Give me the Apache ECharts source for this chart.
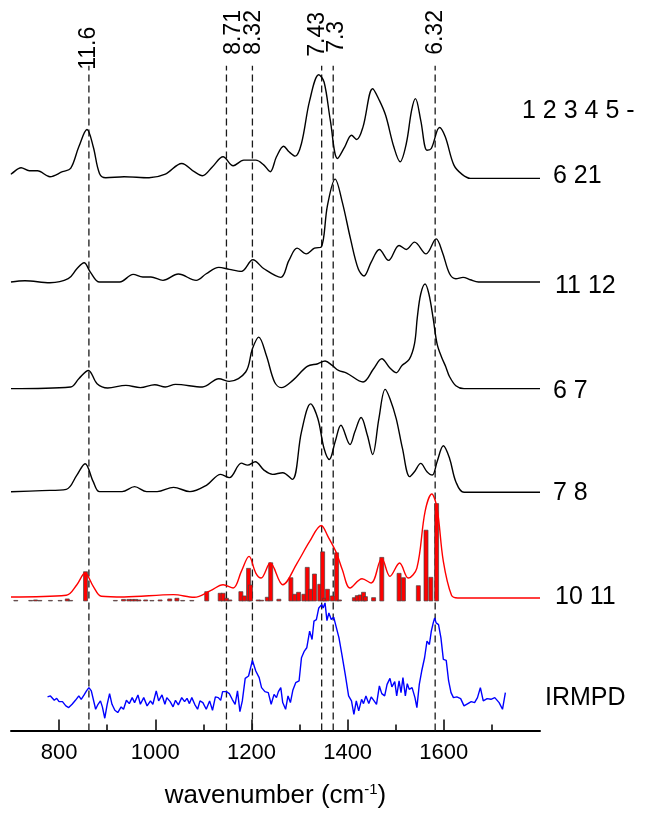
<!DOCTYPE html>
<html><head><meta charset="utf-8">
<script src="https://cdn.jsdelivr.net/npm/echarts@6/dist/echarts.min.js"></script>
<style>html,body{margin:0;padding:0;background:#fff}#c{width:649px;height:814px}</style>
</head><body><div id="c"></div><script>
// ---------- data ----------
const xTicksMajor = [800, 1000, 1200, 1400, 1600];
const xTicksMinor = [900, 1100, 1300, 1500, 1700];
const markerWavenumbers = [862, 1148, 1202, 1346, 1370, 1582];
const markerLabels = ['11.6', '8.71', '8.32', '7.43', '7.3', '6.32'];
const rightLabels = ['1 2 3 4 5 -', '6 21', '11 12', '6 7', '7 8', '10 11', 'IRMPD'];

const spec621 = [[700,4],[702,5],[721,10.7],[738,7.7],[755,7.7],[781,1.7],[807,6.7],[824,10],[841,31.7],[858,49],[871,31.7],[884,5],[897,0.7],[935,1.7],[987,0.7],[1021,4.3],[1055,15],[1081,6.7],[1098,2.7],[1119,11.7],[1141,21.7],[1162,12.7],[1184,18.3],[1209,18.3],[1226,13.3],[1239,6.7],[1252,21.7],[1267,32.3],[1278,26.7],[1291,22.3],[1304,35],[1321,78],[1340,104],[1351,96.7],[1364,58.3],[1379,20],[1394,31.7],[1408,43.3],[1419,39],[1432,51.7],[1452,90],[1466,78.3],[1479,63.3],[1496,31.7],[1509,16.7],[1522,35],[1533,68.3],[1541,80],[1552,58.3],[1565,28.3],[1574,30],[1591,51],[1603,41.7],[1621,13.3],[1638,4],[1655,0],[1800,0]];

const spec1112 = [[700,0],[729,1.3],[781,-0.7],[819,3.3],[837,13.3],[852,19.3],[865,10],[884,0],[926,0],[954,7.7],[974,5],[991,5],[1016,1.7],[1048,8],[1085,1.7],[1106,8.3],[1132,14.7],[1154,12.7],[1179,10.7],[1203,22.3],[1226,13.3],[1261,4.7],[1278,21.7],[1295,34],[1314,28.3],[1331,34],[1345,35],[1358,76.7],[1374,103.3],[1389,80],[1406,43.3],[1422,13.3],[1434,6],[1449,20],[1466,32.7],[1485,21.7],[1507,36.7],[1522,32.7],[1539,40],[1563,28.3],[1584,43.3],[1597,30],[1612,8.3],[1625,3.3],[1640,4.7],[1655,2.3],[1672,0],[1800,0]];

const spec67 = [[700,0],[824,1.7],[841,10],[861,18.3],[879,5],[901,0.7],[939,3.3],[969,1],[999,4],[1021,1.7],[1042,4.3],[1098,1.7],[1132,10],[1154,7.3],[1188,16.7],[1202,40],[1215,51.7],[1231,33.3],[1248,6.7],[1262,1],[1286,8.3],[1316,22.3],[1338,25],[1353,27.7],[1368,23.3],[1381,18.3],[1398,15.7],[1432,6.7],[1454,20],[1471,30],[1488,20.7],[1501,16],[1513,23.3],[1528,29.3],[1539,45],[1545,72],[1552,95],[1561,105],[1569,95],[1578,70],[1586,45],[1595,32],[1604,22],[1612,12],[1625,3],[1642,0],[1800,0]];

const spec78 = [[700,0.5],[764,1.7],[815,3],[837,17.3],[854,28.7],[871,10.7],[884,0.7],[931,0.7],[957,5.7],[982,0.7],[1004,0.7],[1038,5],[1072,0.7],[1107,7.3],[1136,18],[1154,14.7],[1179,29.3],[1192,27.3],[1208,30.7],[1226,22.3],[1244,18],[1265,19.7],[1285,13],[1304,60.7],[1323,88.7],[1338,74],[1351,44],[1362,33],[1374,50.7],[1386,67.3],[1405,48],[1415,60.7],[1428,75],[1441,57.3],[1452,38],[1465,74],[1478,103.3],[1488,94],[1501,74],[1514,44],[1529,15.7],[1539,20.7],[1552,29],[1565,20.7],[1576,17.3],[1586,30.7],[1599,46.7],[1612,34],[1625,10.7],[1642,0],[1800,0]];

const spec1011 = [[700,1],[815,2.7],[837,13.3],[854,25],[871,11.7],[888,1.7],[935,1],[1038,3.3],[1081,0.7],[1115,7.3],[1141,13.3],[1162,10],[1179,26.7],[1195,41.7],[1209,25],[1220,20],[1239,35],[1265,13.3],[1295,35],[1321,56.7],[1345,72.7],[1359,61.7],[1376,46],[1389,28.3],[1405,10],[1430,19.3],[1449,15],[1471,40],[1488,21.7],[1508,35],[1526,20],[1544,30],[1561,86.7],[1575,104.3],[1586,90],[1599,36.7],[1616,2.7],[1629,0],[1800,0]];

const sticks1011 = [[710,0.5],[741,0.5],[751,1],[760,0.5],[782,0.5],[802,0.5],[817,2],[824,0.5],[855,29.3],[917,0.5],[934,1.5],[945,1.5],[952,1.5],[959,1.5],[966,1],[980,1],[993,0.5],[1010,1],[1030,2],[1045,2.7],[1057,0.5],[1076,0.5],[1107,9.3],[1135,7.7],[1141,7.7],[1148,2.7],[1155,1],[1178,9.3],[1185,5],[1194,32.7],[1198,16],[1214,1],[1221,0.7],[1233,3.7],[1240,38.3],[1257,1.7],[1282,23.3],[1290,6.7],[1298,8.7],[1309,6.7],[1316,33.7],[1323,11.7],[1331,27],[1342,16.7],[1348,49.3],[1352,2.7],[1358,11.7],[1368,5],[1377,48.3],[1383,1],[1414,3.3],[1420,5.3],[1426,6],[1433,8.7],[1437,4.3],[1454,3.3],[1471,43.7],[1507,27.7],[1516,23.3],[1547,15.3],[1563,71],[1573,23.7],[1585,97.7]];

const irmpd = [[776,10.7],[782,11.7],[786,13.3],[790,7.3],[795,9.3],[800,6],[807,6],[814,1.7],[820,0],[827,3.3],[834,7.3],[841,11.7],[846,8.3],[852,12.7],[857,16.7],[862,20],[867,16.7],[871,16],[876,-1.7],[881,3.3],[886,6.7],[890,0.7],[895,-10.7],[900,3.3],[905,14],[910,3.3],[916,-2.7],[922,-5],[929,0.7],[934,-1.7],[940,7.3],[946,4],[952,10],[957,5],[964,12.7],[969,3.3],[976,10],[983,1.7],[990,6.7],[995,3.3],[1002,16.7],[1007,6.7],[1014,12.7],[1020,3.3],[1024,10],[1031,6],[1037,0.7],[1042,7.3],[1048,2.7],[1055,10],[1061,6],[1066,9.3],[1071,4],[1076,10],[1082,3.3],[1088,-1.7],[1093,6.7],[1099,5],[1106,-1.7],[1113,6.7],[1119,-2.7],[1125,10.7],[1131,10],[1136,7.3],[1140,16],[1148,16],[1154,14],[1160,8.3],[1166,3.3],[1171,16.7],[1176,-4],[1181,6.7],[1187,29.3],[1194,31.7],[1202,47.3],[1209,36.7],[1216,30],[1221,20],[1228,16],[1235,15],[1241,3.3],[1247,13.3],[1252,10],[1256,16],[1261,20],[1265,5],[1271,-1.7],[1276,11.7],[1281,5],[1286,17.3],[1292,25],[1299,26.7],[1304,50],[1310,56.7],[1315,60],[1321,76.7],[1326,68.3],[1330,86.7],[1335,88.3],[1340,100],[1346,103.3],[1349,100],[1353,105],[1357,87.3],[1361,95],[1366,88.3],[1371,90.7],[1375,89.3],[1382,70],[1388,53.3],[1395,33.3],[1402,11.7],[1408,6.7],[1413,-6.7],[1418,6.7],[1423,-3.3],[1429,8.3],[1433,4],[1438,11.7],[1444,4],[1449,10.7],[1455,6.7],[1460,3.3],[1466,21.7],[1471,14],[1477,11.7],[1482,23.3],[1488,29.3],[1492,20.7],[1498,26],[1502,11.7],[1507,26.7],[1511,15],[1515,30],[1520,11.7],[1524,24],[1528,18.3],[1534,20],[1540,10],[1544,0],[1549,23.3],[1554,36.7],[1560,50],[1565,66.7],[1570,63.3],[1574,76.7],[1578,85],[1581,90],[1584,85],[1589,83.3],[1594,70],[1599,48.3],[1605,47.3],[1610,26.7],[1615,15],[1620,10],[1627,10.7],[1635,9],[1642,1.7],[1650,4],[1657,6],[1664,5],[1670,10],[1676,20],[1682,6.7],[1690,9],[1698,8.3],[1706,10],[1715,5],[1722,-1.7],[1728,15]];

// ---------- layout / style (not data) ----------
const FONT = 'Liberation Sans, Arial, sans-serif';
const Y_MAX = 733;
const offsets = { s621: 554, s1112: 450, s67: 343, s78: 239, s1011: 133, sticks: 130, irmpd: 23 };
const LINE_TOP = 667;
const markerLabelBase = [663, 678, 678, 676, 680, 678];
const markerLabelNudge = [0, 7, 1, -4, 3, 0];
const rightLabelLayout = [
  { y: 622, dx: -18 }, { y: 556, dx: 13 }, { y: 446, dx: 15 }, { y: 341, dx: 13 },
  { y: 238, dx: 13 }, { y: 134, dx: 15 }, { y: 33, dx: 5 }
];

function shift(arr, off) { return arr.map(p => [p[0], p[1] + off]); }
function lineSeries(name, arr, off, color, smooth) {
  return { name, type: 'line', data: shift(arr, off), showSymbol: false, smooth: smooth,
    lineStyle: { color, width: 1.4 }, z: 3, silent: true };
}

const chart = echarts.init(document.getElementById('c'), null, { renderer: 'canvas' });
chart.setOption({
  animation: false,
  backgroundColor: '#fff',
  grid: { left: 11, right: 109, top: 0, bottom: 81, containLabel: false },
  xAxis: [{
    type: 'value', min: 700, max: 1800, position: 'bottom',
    axisLine: { show: true, lineStyle: { color: '#000', width: 2 } },
    axisTick: { show: true, inside: true, length: 11, customValues: xTicksMajor, lineStyle: { color: '#000', width: 1.5 } },
    axisLabel: { show: true, customValues: xTicksMajor, fontSize: 22, color: '#000', margin: 11, fontFamily: FONT,
      formatter: function (v) { return String(v); } },
    splitLine: { show: false },
    name: '{a|wavenumber (cm}{s|-1}{a|)}', nameLocation: 'middle', nameGap: 52,
    nameTextStyle: { rich: {
      a: { fontSize: 26, fontFamily: FONT, color: '#000' },
      s: { fontSize: 15, fontFamily: FONT, color: '#000', verticalAlign: 'top', padding: [0, 0, 12, 0] }
    } }
  }, {
    type: 'value', min: 700, max: 1800, position: 'bottom',
    axisLine: { show: false },
    axisTick: { show: true, inside: true, length: 6, customValues: xTicksMinor, lineStyle: { color: '#000', width: 1.5 } },
    axisLabel: { show: false }, splitLine: { show: false }
  }],
  yAxis: { type: 'value', min: 0, max: Y_MAX, show: false },
  series: [
    {
      type: 'custom', name: 'markers', clip: false, z: 1, silent: true,
      data: markerWavenumbers.map((w, i) => [w, i]),
      renderItem: function (params, api) {
        const w = api.value(0), i = api.value(1);
        const p0 = api.coord([w, 0]), p1 = api.coord([w, LINE_TOP]);
        const pl = api.coord([w, markerLabelBase[i]]);
        return { type: 'group', children: [
          { type: 'line', shape: { x1: p0[0], y1: p0[1], x2: p1[0], y2: p1[1] },
            style: { stroke: '#1a1a1a', lineWidth: 1.3, lineDash: [7, 4] } },
          { type: 'text', x: pl[0] + markerLabelNudge[i], y: pl[1], rotation: Math.PI / 2,
            style: { text: markerLabels[i], fontSize: 23, fontFamily: FONT, fill: '#000', align: 'left', verticalAlign: 'middle' } }
        ] };
      }
    },
    lineSeries('6 21', spec621, offsets.s621, '#000', 0.35),
    lineSeries('11 12', spec1112, offsets.s1112, '#000', 0.35),
    lineSeries('6 7', spec67, offsets.s67, '#000', 0.35),
    lineSeries('7 8', spec78, offsets.s78, '#000', 0.35),
    {
      type: 'custom', name: 'sticks', z: 2, silent: true,
      data: sticks1011,
      renderItem: function (params, api) {
        const w = api.value(0), h = api.value(1);
        const top = api.coord([w, offsets.sticks + h]);
        const bot = api.coord([w, offsets.sticks]);
        return { type: 'rect', shape: { x: top[0] - 2, y: top[1], width: 4, height: Math.max(bot[1] - top[1], 0.5) },
          style: { fill: '#ff0000', stroke: '#444', lineWidth: 0.7 } };
      }
    },
    lineSeries('10 11', spec1011, offsets.s1011, '#ff0000', 0.35),
    lineSeries('IRMPD', irmpd, offsets.irmpd, '#0000ff', false),
    {
      type: 'custom', name: 'labels', clip: false, z: 5, silent: true,
      data: rightLabels.map((t, i) => [1800, rightLabelLayout[i].y, i]),
      renderItem: function (params, api) {
        const i = api.value(2);
        const p = api.coord([api.value(0), api.value(1)]);
        return { type: 'text', x: p[0] + rightLabelLayout[i].dx, y: p[1],
          style: { text: rightLabels[i], fontSize: 25, fontFamily: FONT, fill: '#000', align: 'left', verticalAlign: 'middle' } };
      }
    }
  ]
});
</script></body></html>
